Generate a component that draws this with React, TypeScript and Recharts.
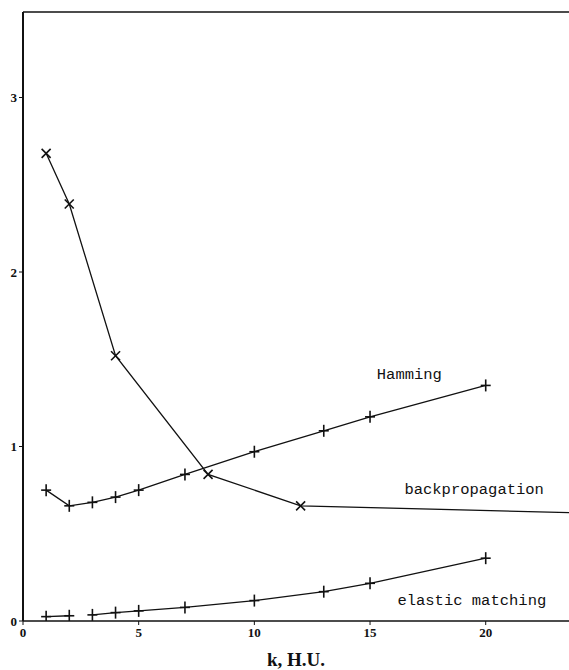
import { LineChart, Line, XAxis, YAxis, ReferenceLine, ReferenceDot, Label } from "recharts";

// error vs. k (hidden units) for three learning schemes
const hammingK = [1, 2, 3, 4, 5, 7, 10, 13, 15, 20];
const hammingVal = [0.75, 0.66, 0.68, 0.71, 0.75, 0.84, 0.97, 1.09, 1.17, 1.35];

const backpropK = [1, 2, 4, 8, 12, 24];
const backpropVal = [2.68, 2.39, 1.52, 0.84, 0.66, 0.62];

const elasticK = [1, 2, 3, 4, 5, 7, 10, 13, 15, 20];
const elasticVal = [0.025, 0.03, 0.035, 0.048, 0.058, 0.078, 0.117, 0.168, 0.216, 0.36];

const xTicks = [0, 5, 10, 15, 20];
const yTicks = [0, 1, 2, 3];
const X_MAX = 23.6;
const Y_MAX = 3.49;

const toRows = (ks: number[], vals: number[]) => ks.map((k, i) => ({ k, v: vals[i] }));

const hammingData = toRows(hammingK, hammingVal);
const backpropData = toRows(backpropK, backpropVal);
// the elastic curve has a break between k=2 and k=3
const elasticA = toRows(elasticK.slice(0, 2), elasticVal.slice(0, 2));
const elasticB = toRows(elasticK.slice(2), elasticVal.slice(2));

const INK = "#111";

const PlusDot = (props: any) => {
  const { cx, cy, payload } = props;
  if (cx == null || cy == null || payload.k > X_MAX) return null;
  return (
    <g stroke={INK} strokeWidth={1.6}>
      <line x1={cx - 5} y1={cy} x2={cx + 5} y2={cy} />
      <line x1={cx} y1={cy - 6} x2={cx} y2={cy + 6} />
    </g>
  );
};

const CrossDot = (props: any) => {
  const { cx, cy, payload } = props;
  if (cx == null || cy == null || payload.k > X_MAX) return null;
  return (
    <g stroke={INK} strokeWidth={1.6}>
      <line x1={cx - 4.5} y1={cy - 4.5} x2={cx + 4.5} y2={cy + 4.5} />
      <line x1={cx - 4.5} y1={cy + 4.5} x2={cx + 4.5} y2={cy - 4.5} />
    </g>
  );
};

const tagStyle = { fill: INK, fontSize: 15.5, fontFamily: "'Liberation Mono', 'DejaVu Sans Mono', monospace" };
const tickStyle = { fill: INK, fontSize: 13, fontWeight: 700, fontFamily: "'Liberation Serif', serif" };

export default function App() {
  return (
    <div style={{ position: "absolute", left: 0, top: 0, background: "#fff" }}>
      <LineChart width={569} height={670} margin={{ top: 12, right: 0, bottom: 0, left: 0 }}>
        <XAxis
          type="number"
          dataKey="k"
          domain={[0, X_MAX]}
          allowDataOverflow
          ticks={xTicks}
          tick={tickStyle}
          tickSize={4}
          tickMargin={3}
          height={49}
          axisLine={{ stroke: INK, strokeWidth: 1.5 }}
          tickLine={{ stroke: INK }}
        >
          <Label
            value="k, H.U."
            position="insideBottom"
            offset={4}
            style={{ fill: INK, fontSize: 19, fontWeight: 700, fontFamily: "'Liberation Serif', serif" }}
          />
        </XAxis>
        <YAxis
          type="number"
          domain={[0, Y_MAX]}
          allowDataOverflow
          ticks={yTicks}
          tick={tickStyle}
          tickSize={4}
          tickMargin={2}
          width={23}
          axisLine={{ stroke: INK, strokeWidth: 2 }}
          tickLine={{ stroke: INK }}
        />
        <ReferenceLine y={Y_MAX} stroke={INK} strokeWidth={1.3} />

        <Line data={hammingData} dataKey="v" stroke={INK} strokeWidth={1.3} dot={<PlusDot />} isAnimationActive={false} />
        <Line data={backpropData} dataKey="v" stroke={INK} strokeWidth={1.3} dot={<CrossDot />} isAnimationActive={false} />
        <Line data={elasticA} dataKey="v" stroke={INK} strokeWidth={1.3} dot={<PlusDot />} isAnimationActive={false} />
        <Line data={elasticB} dataKey="v" stroke={INK} strokeWidth={1.3} dot={<PlusDot />} isAnimationActive={false} />

        <ReferenceDot x={16.7} y={1.42} r={0} label={{ value: "Hamming", position: "center", ...tagStyle }} />
        <ReferenceDot x={19.5} y={0.76} r={0} label={{ value: "backpropagation", position: "center", ...tagStyle }} />
        <ReferenceDot x={19.4} y={0.125} r={0} label={{ value: "elastic matching", position: "center", ...tagStyle }} />
      </LineChart>
    </div>
  );
}
